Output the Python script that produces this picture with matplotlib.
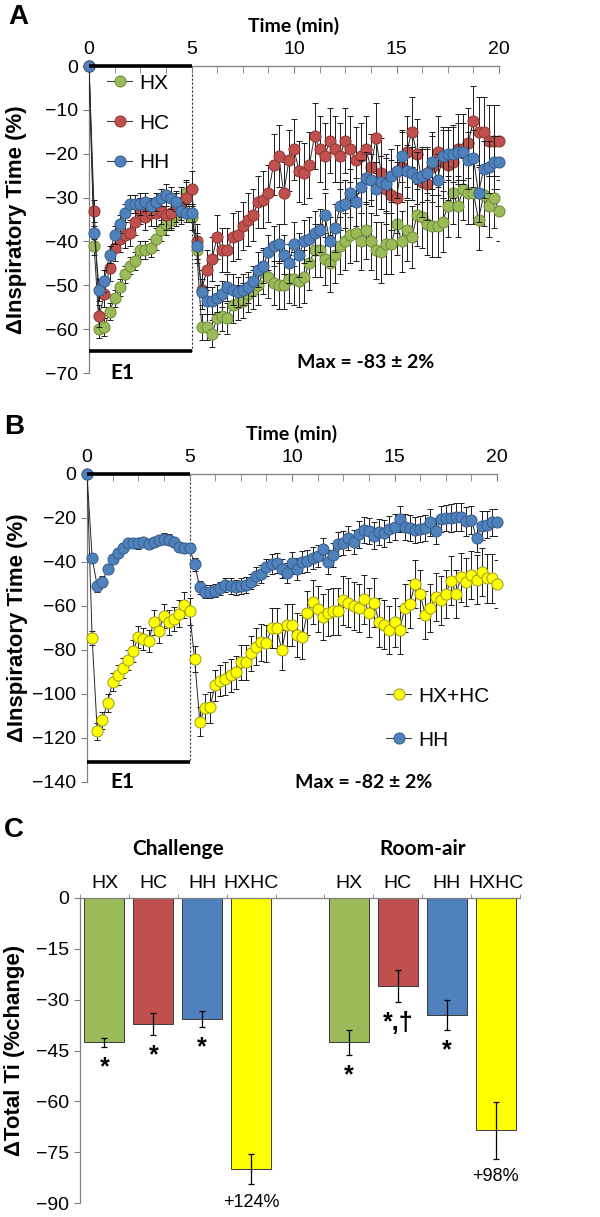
"""
Inspiratory time responses to hypoxia (HX), hypercapnia (HC), hypoxic-hypercapnia (HH)
A: HX / HC / HH time course, B: HX+HC vs HH, C: total Ti change per stimulus.
"""

import numpy as np
import matplotlib.pyplot as plt
from matplotlib.lines import Line2D

plt.rcParams['font.family'] = ['Liberation Sans', 'DejaVu Sans']

W, H = 600, 1217

# ── time course data (one point every 15 s, 0-20 min) ───────────────────────
time_min = np.arange(81) * 0.25

hx = [0, -41, -60, -59.5, -56, -53, -50.5, -47.5, -45.5, -44.5, -42, -42, -41.5, -39.5, -37.5, -36, -35, -34, -33, -29, -34.5,
      -42, -59.5, -59.5, -61, -57.5, -57, -57.5, -54.5, -54, -53.5, -52, -51, -50, -47, -48, -49.5, -50, -50, -48.5, -48.5,
      -49, -48, -45, -42, -42, -44, -45, -43, -41, -40, -38.5, -38, -40, -37.5, -40, -42, -42.5, -40.5, -40.5, -36,
      -40, -37.5, -39, -34, -34.5, -36, -36.5, -36.5, -35.5, -32, -29, -32, -28, -29, -29, -35, -29.5, -32, -30, -33]
hx_err = [0, 2, 2, 2, 2, 2, 2, 2, 2, 2, 2, 2, 2, 2.5, 2.5, 2.5, 2.5, 2.5, 3, 3, 3,
          3, 3, 3, 3, 3.5, 3.5, 3.5, 4, 4, 4, 4, 4.5, 4.5, 5, 5, 5, 5.5, 5.5, 5.5, 6,
          6, 6, 6, 6, 6, 6, 6.5, 6.5, 6.5, 6.5, 6.5, 6.5, 6.5, 6.5, 6.5, 6.5, 7, 7, 7, 7,
          7, 7, 7, 7, 7, 7, 7, 7, 7, 7, 7, 7, 7, 7, 7, 7, 7, 7, 7, 7]

hc = [0, -33, -57, -52, -46, -41.5, -39.5, -38.5, -38, -35.5, -33, -34.5, -33.5, -33.5, -33, -34, -33.5, -32, -31, -30, -28,
      -40, -51, -46.5, -44, -39, -42, -42, -39, -38.5, -36.5, -35, -34, -31, -30.5, -29, -22.5, -20.5, -29, -21.5, -19,
      -24, -24.5, -22.5, -16, -19, -20.5, -17, -19, -20.5, -17, -19, -21.5, -20.5, -19, -23, -16.5, -24.5, -28, -29.5, -30,
      -23, -19.5, -15, -20, -26.5, -27, -23, -19.5, -22, -22.5, -22, -19, -19, -17.5, -12.5, -15, -15, -17, -17, -17]
hc_err = [0, 2.5, 2.5, 3, 3, 3, 3, 3, 3, 3, 3, 3, 3, 3, 3, 3.5, 3.5, 3.5, 3.5, 3.5, 4,
          4, 4.5, 4.5, 5, 5, 5, 5, 5.5, 5.5, 5.5, 6, 6, 6, 6.5, 6.5, 7, 7, 7, 7, 7,
          7, 7, 7.5, 7.5, 7.5, 7.5, 7.5, 7.5, 7.5, 7.5, 7.5, 7.5, 7.5, 7.5, 7.5, 8, 8, 8, 8, 8,
          8, 8, 8, 8, 8, 8, 8, 8, 8, 8, 8, 8, 8, 8, 8, 8, 8, 8, 8, 8]

hh = [0, -38, -51, -49, -43, -38.5, -36, -33.5, -31.5, -31.5, -31.5, -31, -32, -31, -30, -29.5, -30, -31, -33, -33.5, -33.5,
      -41, -51.5, -53.5, -53.5, -53, -52, -50.5, -51, -51.5, -51, -50.5, -49, -46.5, -45.5, -42.5, -41, -40.5, -43, -45, -40.5,
      -43, -40, -39.5, -38, -37.5, -34, -40, -37, -32, -31.5, -29, -31, -27.5, -25.5, -26, -28, -26.5, -27, -25, -24,
      -20.5, -24, -24.5, -25.5, -25, -24.5, -22, -26, -20.5, -20, -20, -19.5, -19.5, -21.5, -21, -29, -23.5, -23, -22, -22]
hh_err = [0, 1.5, 2.5, 2.5, 2, 2, 2, 2, 2, 2, 2.5, 2, 2, 2, 2, 2.5, 2.5, 2, 2, 2, 2,
          3, 3, 3, 3, 3, 3, 3, 3.5, 3.5, 3.5, 3.5, 3.5, 4, 4, 4, 4.5, 4.5, 4.5, 4.5, 5,
          5, 5, 5, 5, 5, 5, 5.5, 5.5, 5.5, 5.5, 5.5, 5.5, 6, 6, 6, 6, 6, 6, 6, 6,
          6, 6, 6, 6, 6, 6, 6, 6, 6, 6, 6.5, 6.5, 6.5, 6.5, 6.5, 6.5, 6.5, 6, 6, 6]

hxhc = [0, -74.5, -117, -112, -104, -94.5, -91.5, -88, -84.5, -80.5, -74, -75, -76, -67.5, -71.5, -64.5, -67.5, -66, -63.5, -59.5, -62.5,
        -84, -112.5, -106.5, -106, -96, -94, -93, -91.5, -90, -85.5, -85.5, -81.5, -78.5, -76.5, -77, -70, -70, -80, -68.5, -68.5,
        -73, -74, -63, -58, -61.5, -65, -63, -62.5, -62.5, -57.5, -58.5, -60, -61, -57, -63, -58.5, -67.5, -68.5, -71, -67.5,
        -71, -61, -59, -50, -54.5, -64, -61, -56, -57.5, -54.5, -48.5, -54.5, -47, -49, -46, -48, -44.5, -47.5, -47.5, -50]
hxhc_err = [0, 3, 4, 4, 4, 4, 4.5, 4.5, 4.5, 5, 5, 5, 5, 5.5, 5.5, 5.5, 5.5, 5.5, 6, 6, 6,
            6, 6.5, 6.5, 7, 7, 7, 7.5, 7.5, 7.5, 8, 8, 8, 8.5, 8.5, 8.5, 9, 9, 9, 9.5, 9.5,
            10, 10, 10, 10, 10.5, 10.5, 10.5, 10.5, 10.5, 11, 11, 11, 11, 11, 11, 11, 11, 11, 11, 11,
            11, 11, 11, 11, 11, 11, 11, 11, 11, 11, 11, 11, 11, 11, 11, 11, 11, 11, 11, 11]

# ── panel C: total Ti change (% of baseline) ────────────────────────────────
bar_labels = ["HX", "HC", "HH", "HXHC"]
challenge = [-42.6, -37.2, -35.7, -79.9]
challenge_err = [1.3, 3.3, 2.4, 4.5]
challenge_marks = ["*", "*", "*", "+124%"]
roomair = [-42.6, -25.9, -34.5, -68.6]
roomair_err = [3.6, 4.8, 4.4, 8.3]
roomair_marks = ["*", "*,†", "*", "+98%"]

GREEN, RED, BLUE, YELLOW = "#9BBB59", "#C0504D", "#4F81BD", "#FFFF00"
EDGE = {GREEN: "#6E8A3A", RED: "#8C3836", BLUE: "#385D8A", YELLOW: "#9A9A20"}
AXC = "#808080"
TICK_FS = 14
MS = 8
BOLD = dict(family=["Lato", "DejaVu Sans"], fontweight="bold")


def px_axes(fig, left, right, top, bottom):
    return fig.add_axes([left / W, 1 - bottom / H, (right - left) / W, (bottom - top) / H])


def draw_series(ax, y, err, face, z):
    ax.errorbar(time_min, y, yerr=err, fmt="none", ecolor="#1a1a1a",
                elinewidth=0.7, capsize=2.2, capthick=0.7, zorder=z)
    ax.plot(time_min, y, "-", color="#262626", lw=0.7, zorder=z + 0.1)
    ax.plot(time_min, y, "o", ms=MS, mfc=face, mec=EDGE[face], mew=0.7,
            zorder=z + 0.2, clip_on=False)


def style_time_axes(ax, ymin, ystep, e1_low):
    ax.set_xlim(0, 20)
    ax.set_ylim(ymin, 0)
    for s in ("right", "bottom"):
        ax.spines[s].set_visible(False)
    for s in ("top", "left"):
        ax.spines[s].set_color(AXC)
        ax.spines[s].set_linewidth(0.9)
    ax.xaxis.tick_top()
    ax.xaxis.set_label_position("top")
    ax.set_xticks([0, 5, 10, 15, 20])
    ax.set_xticks(np.arange(0, 20.01, 1.25), minor=True)
    ax.tick_params(axis="x", which="both", direction="in", length=5,
                   color=AXC, labelsize=TICK_FS, pad=6)
    ax.set_yticks(np.arange(ymin, 0.1, ystep))
    ax.tick_params(axis="y", direction="out", length=4, color=AXC,
                   labelsize=TICK_FS, pad=4)
    ax.set_xlabel("Time (min)", fontsize=14, labelpad=6, **BOLD)
    ax.set_ylabel("ΔInspiratory Time (%)", fontsize=16, fontweight="bold")
    # E1 epoch box
    ax.plot([0, 5], [0, 0], color="black", lw=2.6, solid_capstyle="butt", clip_on=False, zorder=8)
    ax.plot([0, 5], [e1_low, e1_low], color="black", lw=2.6, solid_capstyle="butt", clip_on=False, zorder=8)
    ax.plot([5, 5], [0, e1_low], color="#333333", lw=0.8, ls=(0, (2, 1.6)), zorder=1)


def legend_handles(colors, names):
    return [Line2D([], [], color="#404040", lw=0.8, marker="o", ms=MS,
                   mfc=c, mec=EDGE[c], mew=0.7, label=n) for c, n in zip(colors, names)]


fig = plt.figure(figsize=(W / 100, H / 100), dpi=100)

# ── Panel A ──────────────────────────────────────────────────────────────────
axA = px_axes(fig, 89, 499, 66, 373)
style_time_axes(axA, -70, 10, -65)
draw_series(axA, hx, hx_err, GREEN, 3)
draw_series(axA, hc, hc_err, RED, 4)
draw_series(axA, hh, hh_err, BLUE, 5)
axA.yaxis.set_label_coords(-0.15, 0.5)
axA.legend(handles=legend_handles([GREEN, RED, BLUE], ["HX", "HC", "HH"]),
           loc="upper left", bbox_to_anchor=(0.045, 0.975), frameon=False,
           fontsize=15, handlelength=1.2, handletextpad=0.35, labelspacing=1.0,
           borderpad=0, borderaxespad=0)
axA.text(1.65, -70, "E1", ha="center", va="center", fontsize=15, clip_on=False, **BOLD)
axA.text(13.5, -67.5, "Max = -83 ± 2%", ha="center", va="center", fontsize=14, clip_on=False, **BOLD)

# ── Panel B ──────────────────────────────────────────────────────────────────
axB = px_axes(fig, 87, 497, 474, 782)
style_time_axes(axB, -140, 20, -131)
draw_series(axB, hxhc, hxhc_err, YELLOW, 3)
draw_series(axB, hh, hh_err, BLUE, 5)
axB.yaxis.set_label_coords(-0.145, 0.5)
axB.legend(handles=legend_handles([YELLOW, BLUE], ["HX+HC", "HH"]),
           loc="upper left", bbox_to_anchor=(0.73, 0.31), frameon=False,
           fontsize=15, handlelength=1.2, handletextpad=0.35, labelspacing=1.2,
           borderpad=0, borderaxespad=0)
axB.text(1.75, -140, "E1", ha="center", va="center", fontsize=15, clip_on=False, **BOLD)
axB.text(13.5, -140, "Max = -82 ± 2%", ha="center", va="center", fontsize=14, clip_on=False, **BOLD)

# ── Panel C ──────────────────────────────────────────────────────────────────
axC = px_axes(fig, 80, 520, 898, 1203)
colors = [GREEN, RED, BLUE, YELLOW]
groups = [(0, challenge, challenge_err, challenge_marks, "Challenge"),
          (5, roomair, roomair_err, roomair_marks, "Room-air")]
for start, vals, errs, marks, title in groups:
    pos = start + np.arange(len(vals))
    axC.bar(pos, vals, width=0.82, color=colors, edgecolor="#3a3a3a", lw=0.7, zorder=2)
    axC.errorbar(pos, vals, yerr=errs, fmt="none", ecolor="black",
                 elinewidth=0.9, capsize=2.5, capthick=0.9, zorder=3)
    for p, v, e, m in zip(pos, vals, errs, marks):
        if m.startswith("+"):
            axC.text(p, v - e - 2.8, m, ha="center", va="top", fontsize=13, clip_on=False)
        else:
            axC.text(p, v - e - 2.5, m, ha="center", va="top", fontsize=18, fontweight="bold")
    axC.text(pos.mean(), 1.16, title, transform=axC.get_xaxis_transform(),
             ha="center", va="center", fontsize=15, **BOLD)

axC.set_xlim(-0.5, 8.5)
axC.set_ylim(-90, 0)
for s in ("right", "bottom"):
    axC.spines[s].set_visible(False)
for s in ("top", "left"):
    axC.spines[s].set_color(AXC)
    axC.spines[s].set_linewidth(0.9)
axC.xaxis.tick_top()
axC.set_xticks(list(range(4)) + list(range(5, 9)))
axC.set_xticklabels(bar_labels * 2)
axC.set_xticks(np.arange(-0.5, 8.6, 1.0), minor=True)
axC.tick_params(axis="x", which="major", length=0, labelsize=TICK_FS, pad=4)
axC.tick_params(axis="x", which="minor", direction="out", length=3, color=AXC)
axC.set_yticks(np.arange(-90, 0.1, 15))
axC.tick_params(axis="y", direction="out", length=4, color=AXC, labelsize=TICK_FS, pad=4)
axC.set_ylabel("ΔTotal Ti (%change)", fontsize=16, fontweight="bold")
axC.yaxis.set_label_coords(-0.125, 0.5)

# panel letters
for letter, (x, y) in {"A": (18, 17), "B": (14, 427), "C": (14, 830)}.items():
    fig.text(x / W, 1 - y / H, letter, ha="center", va="center", fontsize=20, fontweight="bold")

fig.savefig("out.png", dpi=100)
